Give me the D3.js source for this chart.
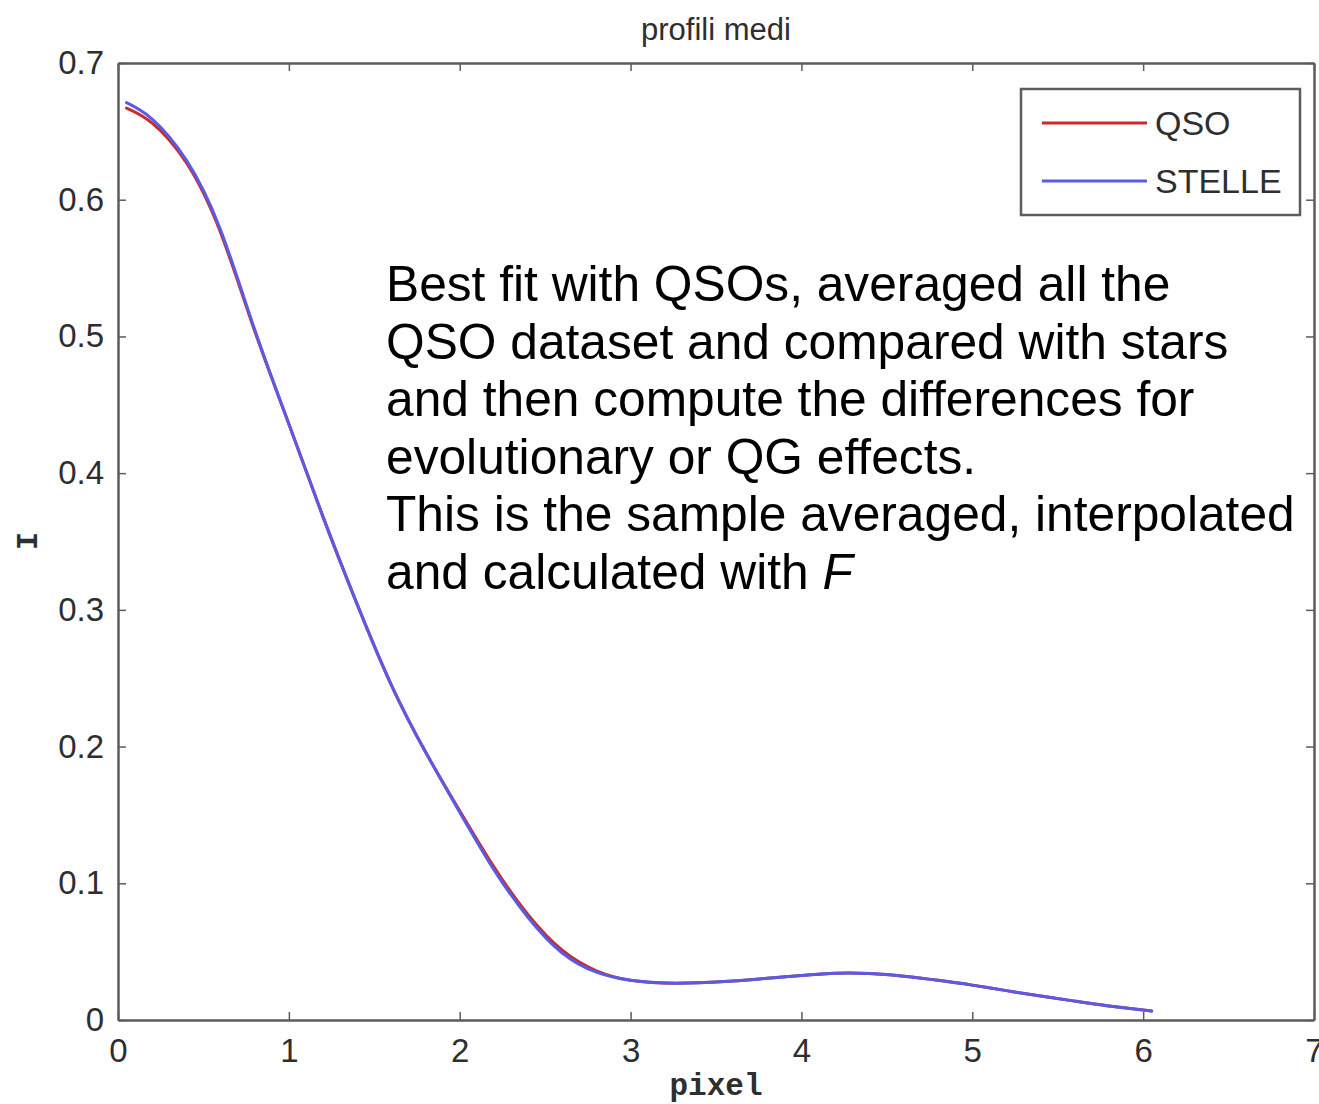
<!DOCTYPE html>
<html>
<head>
<meta charset="utf-8">
<script src="https://cdn.jsdelivr.net/npm/d3@7"></script>
<style>
  html, body { margin: 0; padding: 0; background: #fff; }
  svg { display: block; }
</style>
</head>
<body>
<svg id="chart" width="1319" height="1104"></svg>
<script>
// Mean radial profiles: intensity I versus distance in pixels
const pixel = [0.05, 0.20, 0.40, 0.60, 0.80, 1.00, 1.20, 1.40, 1.60, 1.80, 2.00, 2.20, 2.40, 2.60, 2.80,
               3.00, 3.20, 3.40, 3.60, 3.80, 4.00, 4.20, 4.40, 4.60, 4.80, 5.00, 5.20, 5.40, 5.60, 5.80, 6.05];
const qso = [0.667, 0.656, 0.627, 0.576, 0.504, 0.436, 0.368, 0.304, 0.245, 0.196, 0.153, 0.112, 0.077, 0.051, 0.036,
             0.029, 0.027, 0.0272, 0.0285, 0.0305, 0.0325, 0.0342, 0.034, 0.032, 0.029, 0.0255, 0.0215, 0.0175, 0.0138, 0.0103, 0.0065];
const stelle = [0.671, 0.659, 0.629, 0.578, 0.505, 0.436, 0.368, 0.304, 0.245, 0.196, 0.152, 0.110, 0.075, 0.049, 0.035,
                0.029, 0.027, 0.0272, 0.0285, 0.0305, 0.0325, 0.0342, 0.034, 0.032, 0.029, 0.0255, 0.0215, 0.0175, 0.0138, 0.0103, 0.0065];

const xTicks = [0, 1, 2, 3, 4, 5, 6, 7];
const yTicks = [0, 0.1, 0.2, 0.3, 0.4, 0.5, 0.6, 0.7];
const seriesNames = ["QSO", "STELLE"];
const seriesColors = ["#cc2a2a", "#5a5ae6"];
const titleText = "profili medi";
const xLabel = "pixel";
const yLabel = "I";
const noteLines = [
  "Best fit with QSOs, averaged all the",
  "QSO dataset and compared with stars",
  "and then compute the differences for",
  "evolutionary or QG effects.",
  "This is the sample averaged, interpolated",
  "and calculated with "
];
const noteItalic = "F";

const svg = d3.select("#chart");
const plotL = 118, plotR = 1314, plotT = 63, plotB = 1020;

const x = d3.scaleLinear().domain([0, 7]).range([plotL, plotR]);
const y = d3.scaleLinear().domain([0, 0.7]).range([plotB, plotT]);

const axisColor = "#5c5c5c";
const textColor = "#2e2e2e";
const labelFont = "'Liberation Sans', Arial, Helvetica, sans-serif";
const monoFont = "'Liberation Mono', 'Courier New', monospace";

// Axes with inward ticks on all four sides (boxed plot)
const fmtY = d => d === 0 ? "0" : d3.format(".1f")(d);
const gBottom = svg.append("g").attr("transform", `translate(0,${plotB})`)
  .call(d3.axisBottom(x).tickValues(xTicks).tickSizeInner(-8).tickSizeOuter(0).tickPadding(19).tickFormat(d3.format("d")));
const gLeft = svg.append("g").attr("transform", `translate(${plotL},0)`)
  .call(d3.axisLeft(y).tickValues(yTicks).tickSizeInner(-8).tickSizeOuter(0).tickPadding(14).tickFormat(fmtY));
const gTop = svg.append("g").attr("transform", `translate(0,${plotT})`)
  .call(d3.axisTop(x).tickValues(xTicks).tickSizeInner(-8).tickSizeOuter(0).tickFormat(""));
const gRight = svg.append("g").attr("transform", `translate(${plotR},0)`)
  .call(d3.axisRight(y).tickValues(yTicks).tickSizeInner(-8).tickSizeOuter(0).tickFormat(""));

[gBottom, gLeft, gTop, gRight].forEach(g => {
  g.select(".domain").attr("stroke", axisColor).attr("stroke-width", 2.5);
  g.selectAll(".tick line").attr("stroke", axisColor).attr("stroke-width", 1.5);
  g.selectAll(".tick text").attr("fill", textColor).style("font-family", labelFont).style("font-size", "33px");
});

// Profiles
const pts = s => pixel.map((p, i) => [p, s[i]]);
const line = d3.line().x(d => x(d[0])).y(d => y(d[1])).curve(d3.curveNatural);
[qso, stelle].forEach((s, i) => {
  svg.append("path").attr("d", line(pts(s)))
    .attr("fill", "none").attr("stroke", seriesColors[i]).attr("stroke-width", 3)
    .attr("stroke-linejoin", "round").attr("stroke-linecap", "round");
});

// Title and axis labels
svg.append("text").attr("x", (plotL + plotR) / 2).attr("y", 40).attr("text-anchor", "middle")
  .style("font-family", labelFont).style("font-size", "31px").attr("fill", textColor).text(titleText);
svg.append("text").attr("x", (plotL + plotR) / 2).attr("y", 1095).attr("text-anchor", "middle")
  .style("font-family", monoFont).style("font-weight", "bold")
  .style("font-size", "31px").attr("fill", textColor).text(xLabel);
svg.append("text").attr("transform", "translate(37,541) rotate(-90)").attr("text-anchor", "middle")
  .style("font-family", monoFont).style("font-weight", "bold")
  .style("font-size", "30px").attr("fill", textColor).text(yLabel);

// Legend
const lg = svg.append("g");
lg.append("rect").attr("x", 1021).attr("y", 89).attr("width", 279).attr("height", 126)
  .attr("fill", "#fff").attr("stroke", axisColor).attr("stroke-width", 2.5);
seriesNames.forEach((name, i) => {
  const ly = 123 + i * 58;
  lg.append("line").attr("x1", 1042).attr("x2", 1147).attr("y1", ly).attr("y2", ly)
    .attr("stroke", seriesColors[i]).attr("stroke-width", 3);
  lg.append("text").attr("x", 1155).attr("y", ly + 12)
    .style("font-family", labelFont).style("font-size", "34px").attr("fill", textColor).text(name);
});

// Annotation
const note = svg.append("text").style("font-family", labelFont).style("font-size", "49.7px").attr("fill", "#000");
noteLines.forEach((t, i) => {
  note.append("tspan").attr("x", 386).attr("y", 301 + i * 57.5).text(t);
  if (i === noteLines.length - 1) {
    note.append("tspan").style("font-style", "italic").text(noteItalic);
  }
});
</script>
</body>
</html>
